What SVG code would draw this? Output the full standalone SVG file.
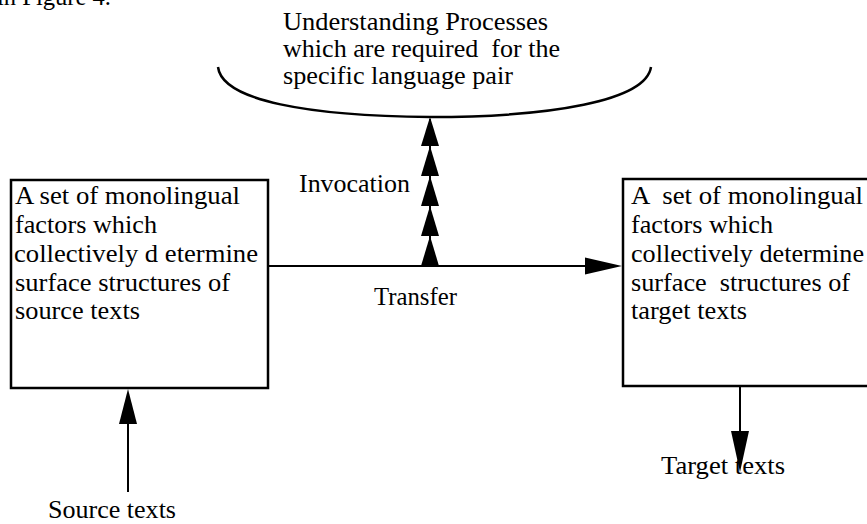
<svg xmlns="http://www.w3.org/2000/svg" width="867" height="524" viewBox="0 0 867 524">
<defs>
<style>
text{font-family:"Liberation Serif","Times New Roman",serif;font-size:25px;fill:#000;white-space:pre}
.box{fill:#fff;stroke:#000;stroke-width:2.5}
.ln{fill:none;stroke:#000;stroke-width:2}
.head{fill:#000}
</style>
</defs>
<rect width="867" height="524" fill="#fff"/>
<text x="-3" y="5" textLength="114" lengthAdjust="spacingAndGlyphs">in Figure 4.</text>
<g id="understanding">
<path class="ln" style="stroke-width:2.5" d="M218,67 C222,101 310,116 430,117 C550,117 646,101 651,67"/>
<text x="283" y="30" textLength="265" lengthAdjust="spacingAndGlyphs">Understanding Processes</text>
<text x="283" y="57" textLength="277" lengthAdjust="spacingAndGlyphs">which are required  for the</text>
<text x="283" y="84" textLength="230" lengthAdjust="spacingAndGlyphs">specific language pair</text>
</g>
<g id="source-factors">
<rect class="box" x="11" y="180" width="257" height="208"/>
<text x="15" y="204" textLength="225" lengthAdjust="spacingAndGlyphs">A set of monolingual</text>
<text x="15" y="233" textLength="142" lengthAdjust="spacingAndGlyphs">factors which</text>
<text x="14" y="262" textLength="244" lengthAdjust="spacingAndGlyphs">collectively d etermine</text>
<text x="15" y="291" textLength="215" lengthAdjust="spacingAndGlyphs">surface structures of</text>
<text x="15" y="319" textLength="125" lengthAdjust="spacingAndGlyphs">source texts</text>
</g>
<g id="target-factors">
<rect class="box" x="623" y="179" width="260" height="207"/>
<text x="631" y="204" textLength="232" lengthAdjust="spacingAndGlyphs">A  set of monolingual</text>
<text x="631" y="233" textLength="142" lengthAdjust="spacingAndGlyphs">factors which</text>
<text x="631" y="262" textLength="233" lengthAdjust="spacingAndGlyphs">collectively determine</text>
<text x="631" y="291" textLength="219" lengthAdjust="spacingAndGlyphs">surface  structures of</text>
<text x="631" y="319" textLength="116" lengthAdjust="spacingAndGlyphs">target texts</text>
</g>
<g id="source-texts">
<text x="48" y="518" textLength="128" lengthAdjust="spacingAndGlyphs">Source texts</text>
</g>
<g id="target-texts">
<text x="661" y="474" textLength="124" lengthAdjust="spacingAndGlyphs">Target texts</text>
</g>
<g id="connectors">
<line class="ln" x1="268" y1="266" x2="590" y2="266"/>
<polygon class="head" points="585,257.5 622,266 585,274.5"/>
<text x="374" y="305" textLength="83" lengthAdjust="spacingAndGlyphs">Transfer</text>
<line class="ln" x1="430" y1="266" x2="430" y2="119"/>
<polygon class="head" points="421,266 430,236 439,266"/>
<polygon class="head" points="421,236 430,206 439,236"/>
<polygon class="head" points="421,206 430,176 439,206"/>
<polygon class="head" points="421,176 430,146 439,176"/>
<polygon class="head" points="421,146 430,117 439,146"/>
<text x="299" y="192" textLength="111" lengthAdjust="spacingAndGlyphs">Invocation</text>
<line class="ln" x1="128" y1="492" x2="128" y2="420"/>
<polygon class="head" points="119,424 128,389 137,424"/>
<line class="ln" x1="740" y1="386" x2="740" y2="435"/>
<polygon class="head" points="731,431 740,472 749,431"/>
</g>
</svg>
